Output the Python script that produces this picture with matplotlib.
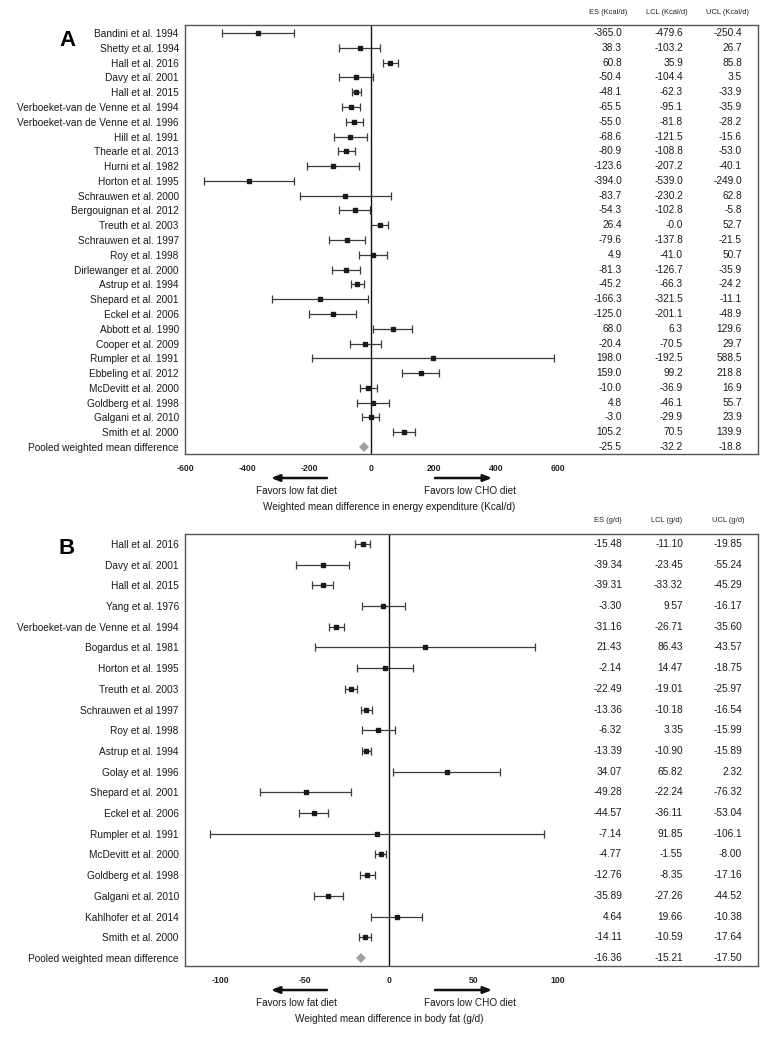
import numpy as np
import matplotlib
matplotlib.use("Agg")
import matplotlib.pyplot as plt
from matplotlib.transforms import blended_transform_factory

plt.rcParams['font.family'] = ['Liberation Sans', 'DejaVu Sans']

W, H = 774, 1038

# ---- Panel A: energy expenditure (Kcal/d) ----
studies_a = [
    "Bandini et al. 1994", "Shetty et al. 1994", "Hall et al. 2016", "Davy et al. 2001",
    "Hall et al. 2015", "Verboeket-van de Venne et al. 1994",
    "Verboeket-van de Venne et al. 1996", "Hill et al. 1991", "Thearle et al. 2013",
    "Hurni et al. 1982", "Horton et al. 1995", "Schrauwen et al. 2000",
    "Bergouignan et al. 2012", "Treuth et al. 2003", "Schrauwen et al. 1997",
    "Roy et al. 1998", "Dirlewanger et al. 2000", "Astrup et al. 1994",
    "Shepard et al. 2001", "Eckel et al. 2006", "Abbott et al. 1990",
    "Cooper et al. 2009", "Rumpler et al. 1991", "Ebbeling et al. 2012",
    "McDevitt et al. 2000", "Goldberg et al. 1998", "Galgani et al. 2010",
    "Smith et al. 2000", "Pooled weighted mean difference",
]
es_a = [-365.0, -38.3, 60.8, -50.4, -48.1, -65.5, -55.0, -68.6, -80.9, -123.6,
        -394.0, -83.7, -54.3, 26.4, -79.6, 4.9, -81.3, -45.2, -166.3, -125.0,
        68.0, -20.4, 198.0, 159.0, -10.0, 4.8, -3.0, 105.2, -25.5]
lcl_a = [-479.6, -103.2, 35.9, -104.4, -62.3, -95.1, -81.8, -121.5, -108.8, -207.2,
         -539.0, -230.2, -102.8, -0.0, -137.8, -41.0, -126.7, -66.3, -321.5, -201.1,
         6.3, -70.5, -192.5, 99.2, -36.9, -46.1, -29.9, 70.5, -32.2]
ucl_a = [-250.4, 26.7, 85.8, 3.5, -33.9, -35.9, -28.2, -15.6, -53.0, -40.1,
         -249.0, 62.8, -5.8, 52.7, -21.5, 50.7, -35.9, -24.2, -11.1, -48.9,
         129.6, 29.7, 588.5, 218.8, 16.9, 55.7, 23.9, 139.9, -18.8]
# the printed table shows Shetty's ES without the minus sign
es_a_text = [f"{v:.1f}" for v in es_a]
es_a_text[1] = "38.3"
ticks_a = [-600, -400, -200, 0, 200, 400, 600]

# ---- Panel B: body fat (g/d) ----
studies_b = [
    "Hall et al. 2016", "Davy et al. 2001", "Hall et al. 2015", "Yang et al. 1976",
    "Verboeket-van de Venne et al. 1994", "Bogardus et al. 1981", "Horton et al. 1995",
    "Treuth et al. 2003", "Schrauwen et al 1997", "Roy et al. 1998", "Astrup et al. 1994",
    "Golay et al. 1996", "Shepard et al. 2001", "Eckel et al. 2006", "Rumpler et al. 1991",
    "McDevitt et al. 2000", "Goldberg et al. 1998", "Galgani et al. 2010",
    "Kahlhofer et al. 2014", "Smith et al. 2000", "Pooled weighted mean difference",
]
es_b_text = ["-15.48", "-39.34", "-39.31", "-3.30", "-31.16", "21.43", "-2.14", "-22.49",
             "-13.36", "-6.32", "-13.39", "34.07", "-49.28", "-44.57", "-7.14", "-4.77",
             "-12.76", "-35.89", "4.64", "-14.11", "-16.36"]
lcl_b_text = ["-11.10", "-23.45", "-33.32", "9.57", "-26.71", "86.43", "14.47", "-19.01",
              "-10.18", "3.35", "-10.90", "65.82", "-22.24", "-36.11", "91.85", "-1.55",
              "-8.35", "-27.26", "19.66", "-10.59", "-15.21"]
ucl_b_text = ["-19.85", "-55.24", "-45.29", "-16.17", "-35.60", "-43.57", "-18.75", "-25.97",
              "-16.54", "-15.99", "-15.89", "2.32", "-76.32", "-53.04", "-106.1", "-8.00",
              "-17.16", "-44.52", "-10.38", "-17.64", "-17.50"]
ticks_b = [-100, -50, 0, 50, 100]


def fx(px):
    return px / W


def fy(py):
    return 1 - py / H


def forest(fig, box, xlim, ylim, studies, es, lo, hi, tables, headers, ticks,
           letter, letter_y, arrow_y, xlabel):
    left, top, right, bottom = box
    ax = fig.add_axes([fx(left), fy(bottom), fx(right) - fx(left), (bottom - top) / H])
    n = len(studies)
    y = np.arange(n)
    es = np.asarray(es, float)
    lo = np.asarray(lo, float)
    hi = np.asarray(hi, float)
    a = np.minimum(lo, hi)
    b = np.maximum(lo, hi)
    s = slice(0, n - 1)
    ax.errorbar(es[s], y[s], xerr=[es[s] - a[s], b[s] - es[s]], fmt='s', color='#1a1a1a',
                ecolor='#3a3a3a', elinewidth=0.9, capsize=2.6, capthick=0.9, markersize=2.6)
    ax.plot(es[-1], y[-1], 'D', color='#a0a0a0', markersize=5.5, markeredgewidth=0)
    ax.axvline(0, color='#111111', lw=1.0)
    ax.set_xlim(*xlim)
    ax.set_ylim(*ylim)
    ax.set_yticks(y)
    ax.set_yticklabels(studies, fontsize=7.3, color='#1a1a1a')
    ax.set_xticks(ticks)
    ax.set_xticklabels([str(t) for t in ticks], fontsize=6.2, fontweight='bold', color='#222222')
    ax.tick_params(axis='both', length=0)
    ax.tick_params(axis='y', pad=4.5)
    ax.tick_params(axis='x', pad=7.5)
    for sp in ax.spines.values():
        sp.set_color('#555555')
        sp.set_linewidth(1.0)

    tr = blended_transform_factory(fig.transFigure, ax.transData)
    col_right = [622, 683, 742]
    col_head = [608, 667, 728]
    for col, xr in zip(tables, col_right):
        for yi, txt in zip(y, col):
            ax.text(fx(xr), yi, txt, transform=tr, ha='right', va='center',
                    fontsize=7.3, color='#1a1a1a')
    for h, xc in zip(headers, col_head):
        fig.text(fx(xc), fy(top - 13), h, ha='center', va='center', fontsize=5.4, color='#222222')

    fig.text(fx(67), fy(letter_y), letter, ha='center', va='center', fontsize=16, fontweight='bold')

    arrow = dict(arrowstyle='-|>,head_length=0.5,head_width=0.2', lw=1.8, color='#111111',
                 shrinkA=0, shrinkB=0)
    ax.annotate('', xy=(fx(271), fy(arrow_y)), xytext=(fx(327), fy(arrow_y)),
                xycoords='figure fraction', textcoords='figure fraction', arrowprops=arrow)
    ax.annotate('', xy=(fx(492), fy(arrow_y)), xytext=(fx(435), fy(arrow_y)),
                xycoords='figure fraction', textcoords='figure fraction', arrowprops=arrow)
    fig.text(fx(297), fy(arrow_y + 13), "Favors low fat diet", ha='center', va='center',
             fontsize=7.2, color='#1a1a1a')
    fig.text(fx(470), fy(arrow_y + 13), "Favors low CHO diet", ha='center', va='center',
             fontsize=7.2, color='#1a1a1a')
    fig.text(fx(389), fy(arrow_y + 29), xlabel, ha='center', va='center',
             fontsize=7.2, color='#1a1a1a')
    return ax


fig = plt.figure(figsize=(W / 100, H / 100), dpi=100)

forest(fig, (185, 25, 758, 454), (-598, 1244), (28.47, -0.54), studies_a, es_a, lcl_a, ucl_a,
       [es_a_text, [f"{v:.1f}" for v in lcl_a], [f"{v:.1f}" for v in ucl_a]],
       ["ES (Kcal/d)", "LCL (Kcal/d)", "UCL (Kcal/d)"], ticks_a, "A", 40, 478,
       "Weighted mean difference in energy expenditure (Kcal/d)")

forest(fig, (185, 534, 758, 966), (-120.7, 218.3), (20.39, -0.48), studies_b,
       [float(v) for v in es_b_text], [float(v) for v in lcl_b_text],
       [float(v) for v in ucl_b_text], [es_b_text, lcl_b_text, ucl_b_text],
       ["ES (g/d)", "LCL (g/d)", "UCL (g/d)"], ticks_b, "B", 549, 990,
       "Weighted mean difference in body fat (g/d)")

fig.savefig("out.png", dpi=100)
